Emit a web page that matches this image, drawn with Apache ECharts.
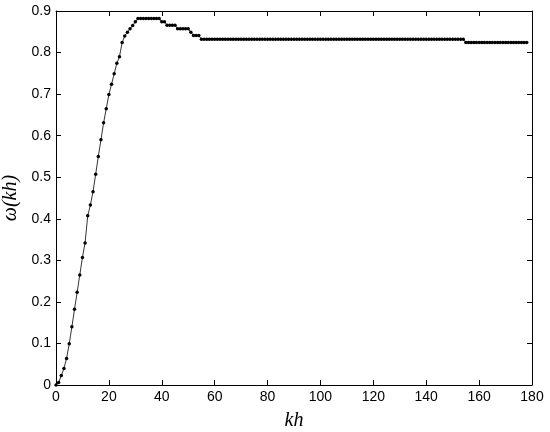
<!DOCTYPE html>
<html>
<head>
<meta charset="utf-8">
<script src="https://cdn.jsdelivr.net/npm/echarts@6/dist/echarts.min.js"></script>
<style>
  html, body { margin: 0; padding: 0; background: #fff; }
  #main { width: 550px; height: 432px; }
</style>
</head>
<body>
<div id="main"></div>
<script>
// kh runs 0, 1, 2, ... one sample per unit
const omega = [
  0, 0.006, 0.023, 0.040, 0.064, 0.099, 0.140, 0.182, 0.223, 0.265,
  0.307, 0.342, 0.407, 0.433, 0.465, 0.507, 0.550, 0.590, 0.631, 0.665,
  0.699, 0.724, 0.749, 0.774, 0.790, 0.824, 0.840, 0.849, 0.857, 0.865,
  0.874, 0.882, 0.882, 0.882, 0.882, 0.882, 0.882, 0.882, 0.882, 0.882,
  0.874, 0.874, 0.866, 0.866, 0.866, 0.866, 0.857, 0.857, 0.857, 0.857,
  0.857, 0.849, 0.841, 0.841, 0.841, 0.832, 0.832, 0.832, 0.832, 0.832,
  0.832, 0.832, 0.832, 0.832, 0.832, 0.832, 0.832, 0.832, 0.832, 0.832,
  0.832, 0.832, 0.832, 0.832, 0.832, 0.832, 0.832, 0.832, 0.832, 0.832,
  0.832, 0.832, 0.832, 0.832, 0.832, 0.832, 0.832, 0.832, 0.832, 0.832,
  0.832, 0.832, 0.832, 0.832, 0.832, 0.832, 0.832, 0.832, 0.832, 0.832,
  0.832, 0.832, 0.832, 0.832, 0.832, 0.832, 0.832, 0.832, 0.832, 0.832,
  0.832, 0.832, 0.832, 0.832, 0.832, 0.832, 0.832, 0.832, 0.832, 0.832,
  0.832, 0.832, 0.832, 0.832, 0.832, 0.832, 0.832, 0.832, 0.832, 0.832,
  0.832, 0.832, 0.832, 0.832, 0.832, 0.832, 0.832, 0.832, 0.832, 0.832,
  0.832, 0.832, 0.832, 0.832, 0.832, 0.832, 0.832, 0.832, 0.832, 0.832,
  0.832, 0.832, 0.832, 0.832, 0.832, 0.824, 0.824, 0.824, 0.824, 0.824,
  0.824, 0.824, 0.824, 0.824, 0.824, 0.824, 0.824, 0.824, 0.824, 0.824,
  0.824, 0.824, 0.824, 0.824, 0.824, 0.824, 0.824, 0.824, 0.824
];

const xTicks = { min: 0, max: 180, interval: 20 };
const yTicks = { min: 0, max: 0.9, interval: 0.1 };

const points = omega.map((w, i) => [i, w]);

const labelFont = { color: '#000', fontSize: 14, fontFamily: 'Liberation Sans' };
const nameFont = { color: '#000', fontSize: 20, fontStyle: 'italic', fontFamily: 'Liberation Serif' };
const frameLine = { show: true, onZero: false, lineStyle: { color: '#000', width: 1 } };
const innerTick = { show: true, inside: true, length: 5, lineStyle: { color: '#000' } };

const chart = echarts.init(document.getElementById('main'));
chart.setOption({
  animation: false,
  backgroundColor: '#fff',
  grid: { left: 56, right: 18, top: 11, bottom: 47, containLabel: false, outerBoundsMode: 'none' },
  xAxis: [
    {
      type: 'value', min: xTicks.min, max: xTicks.max, interval: xTicks.interval,
      position: 'bottom',
      name: 'kh', nameLocation: 'middle', nameGap: 26, nameTextStyle: nameFont,
      axisLine: frameLine, axisTick: innerTick,
      axisLabel: Object.assign({ margin: 5 }, labelFont),
      splitLine: { show: false }
    },
    {
      type: 'value', min: xTicks.min, max: xTicks.max, interval: xTicks.interval,
      position: 'top',
      axisLine: frameLine, axisTick: innerTick,
      axisLabel: { show: false }, splitLine: { show: false }
    }
  ],
  yAxis: [
    {
      type: 'value', min: yTicks.min, max: yTicks.max, interval: yTicks.interval,
      position: 'left',
      name: 'ω(kh)', nameLocation: 'middle', nameGap: 32, nameTextStyle: nameFont,
      axisLine: frameLine, axisTick: innerTick,
      axisLabel: Object.assign({ margin: 5 }, labelFont),
      splitLine: { show: false }
    },
    {
      type: 'value', min: yTicks.min, max: yTicks.max, interval: yTicks.interval,
      position: 'right',
      axisLine: frameLine, axisTick: innerTick,
      axisLabel: { show: false }, splitLine: { show: false }
    }
  ],
  series: [
    {
      type: 'line',
      data: points,
      symbol: 'circle',
      symbolSize: 3.5,
      showAllSymbol: true,
      lineStyle: { color: '#000', width: 0.8 },
      itemStyle: { color: '#000' }
    }
  ]
});
</script>
</body>
</html>
